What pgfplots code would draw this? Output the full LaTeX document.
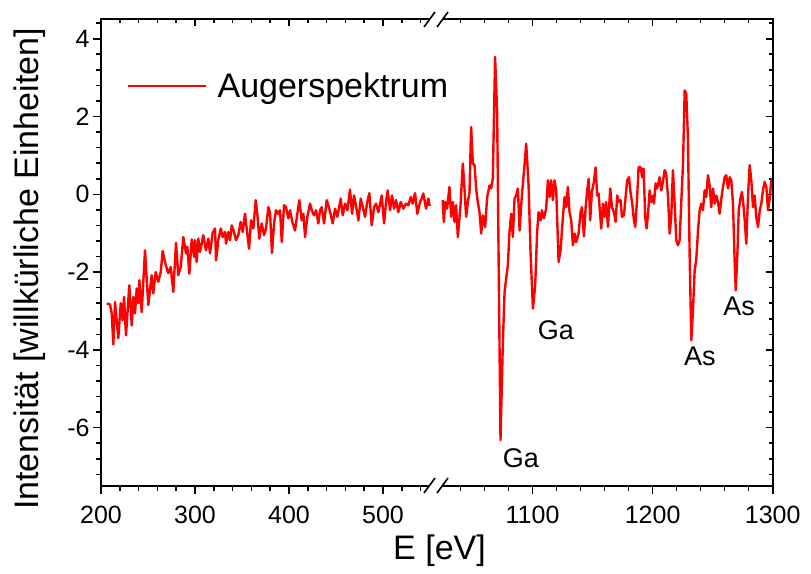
\documentclass[border=0pt]{standalone}
\usepackage{pgfplots}
\pgfplotsset{compat=1.18}
\usepackage{pgfplotstable}
\usepackage{fontspec}
\setmainfont{Liberation Sans}

\pgfplotstableread{
E I
206.1 -2.81
209.6 -2.83
211.4 -3.06
213.1 -3.86
214.9 -2.77
218.4 -3.70
221.0 -2.80
223.1 -3.24
224.5 -2.64
226.6 -3.63
230.1 -2.34
232.7 -3.37
234.4 -2.64
236.2 -3.06
238.0 -2.42
239.7 -2.80
240.8 -2.21
243.3 -3.03
246.8 -1.44
250.3 -2.85
253.9 -2.08
255.6 -2.55
258.2 -2.00
261.0 -2.25
263.5 -2.00
265.6 -1.46
268.1 -1.74
269.9 -1.90
271.6 -2.03
274.2 -1.87
276.9 -2.51
279.8 -1.25
282.2 -2.08
284.8 -1.87
287.6 -1.10
290.4 -1.52
291.8 -1.35
294.0 -2.04
296.5 -1.16
299.0 -1.61
300.0 -1.18
301.8 -1.74
303.5 -1.14
305.3 -1.48
307.1 -1.27
308.8 -1.05
311.7 -1.44
314.2 -1.14
316.0 -1.52
318.8 -0.99
321.3 -0.88
322.4 -1.70
324.8 -1.18
327.4 -0.88
329.5 -1.10
331.9 -0.97
333.0 -1.27
335.4 -0.97
337.3 -1.18
339.1 -0.80
341.5 -0.97
343.6 -1.18
346.1 -1.05
348.6 -0.71
350.8 -0.97
353.2 -0.50
355.0 -0.88
357.5 -1.40
359.6 -0.67
362.1 -0.88
364.6 -0.15
366.3 -0.50
368.4 -1.14
371.0 -0.75
373.4 -1.05
375.6 -0.88
378.0 -0.33
379.8 -0.46
381.9 -1.51
384.1 -0.75
386.2 -0.41
388.6 -0.50
390.5 -0.41
392.3 -1.23
394.7 -0.28
396.8 -0.33
399.3 -0.62
401.1 -0.41
403.5 -0.71
406.4 -0.93
408.9 -0.50
411.0 -0.15
413.5 -0.67
415.3 -0.50
417.1 -1.10
419.5 -0.58
422.4 -0.24
424.2 -0.41
426.6 -0.54
428.8 -0.41
431.2 -0.75
433.0 -0.41
434.8 -0.33
437.3 -0.75
440.1 -0.15
442.9 -0.37
446.5 -0.75
449.0 -0.37
451.4 -0.58
455.0 -0.11
457.2 -0.54
459.6 -0.24
462.1 -0.41
464.9 0.12
467.1 -0.50
469.2 -0.03
472.1 -0.41
473.8 -0.67
476.3 -0.11
478.5 -0.33
480.9 -0.58
483.3 -0.20
485.5 0.03
488.0 -0.80
490.5 -0.33
492.6 -0.24
495.1 -0.46
498.7 -0.03
501.1 -0.75
503.2 -0.20
505.0 0.10
507.5 -0.41
509.6 -0.03
511.8 -0.37
513.9 -0.15
516.3 -0.46
518.9 -0.20
521.6 -0.37
524.5 -0.24
527.0 -0.28
529.5 -0.07
531.6 -0.24
534.1 0.03
536.5 -0.50
539.4 -0.20
541.2 -0.11
542.9 0.02
545.8 -0.37
548.3 -0.11
549.6 -0.30
}\leftdata

\pgfplotstableread{
E I
1025.2 -0.15
1026.1 -0.71
1027.2 -0.20
1028.8 -0.37
1030.8 0.19
1032.2 -0.58
1033.6 -0.20
1035.0 -0.71
1036.3 -0.28
1037.8 -1.10
1040.0 -0.28
1041.9 0.79
1042.8 0.40
1044.7 -0.58
1046.1 -0.20
1047.5 0.06
1048.8 1.73
1050.3 0.79
1051.7 0.75
1053.0 0.15
1054.4 -0.20
1055.8 -0.46
1057.2 -1.01
1058.6 -0.54
1060.5 -0.84
1062.2 -0.07
1064.2 0.23
1065.5 0.15
1066.9 0.40
1068.8 3.53
1070.5 2.12
1071.9 -2.17
1073.3 -6.32
1075.2 -3.88
1076.7 -2.51
1078.0 -2.17
1079.4 -1.83
1080.8 -0.97
1082.2 -0.50
1083.6 -1.10
1085.0 -0.11
1086.3 -0.03
1087.8 0.15
1089.2 -0.93
1091.1 -0.03
1092.8 0.57
1094.7 1.30
1096.7 0.23
1098.3 -1.48
1100.3 -2.94
1102.2 -2.34
1103.8 -0.97
1105.0 -0.46
1106.7 -0.67
1107.8 -0.41
1109.4 -0.62
1111.3 -0.37
1112.8 0.36
1114.2 -0.07
1115.5 0.36
1116.9 -0.15
1118.3 0.36
1119.7 0.10
1121.7 -1.74
1123.3 -1.44
1125.3 -0.58
1126.7 -0.07
1128.0 -0.33
1129.4 0.19
1130.8 -0.46
1132.2 -0.67
1133.6 -1.31
1135.0 -1.01
1136.3 -1.23
1138.3 -1.01
1140.0 -0.46
1141.1 -0.33
1142.8 -1.08
1144.2 -0.33
1145.5 0.10
1146.7 0.40
1148.0 -0.67
1149.4 0.06
1151.1 0.32
1152.5 0.69
1153.8 -0.03
1155.0 0.02
1155.8 -0.33
1157.2 -0.88
1158.6 -0.24
1160.0 -0.58
1161.3 -0.20
1162.8 -0.84
1164.7 0.15
1166.1 -0.33
1167.8 -0.46
1169.2 -0.71
1170.5 -0.03
1171.9 -0.20
1173.3 -0.15
1174.4 -0.58
1176.1 -0.54
1177.5 -0.07
1178.8 0.36
1180.3 0.44
1181.7 0.02
1183.0 -0.24
1184.4 -0.67
1185.5 -0.84
1186.9 -0.20
1188.3 0.70
1190.0 0.70
1191.3 0.44
1192.5 0.66
1193.8 -0.58
1195.0 -0.88
1196.1 -0.54
1197.5 0.10
1198.8 -0.20
1200.3 -0.03
1201.1 -0.24
1202.5 0.28
1203.8 0.15
1205.8 0.44
1207.2 0.10
1208.6 0.32
1210.0 0.62
1211.3 0.53
1212.8 -0.07
1214.2 -1.01
1215.5 -0.58
1216.9 0.62
1218.3 -0.24
1219.7 -1.18
1221.1 -1.31
1222.5 -1.18
1223.8 -0.24
1225.3 0.79
1226.7 2.67
1228.0 2.59
1229.4 1.47
1230.8 -1.52
1232.2 -3.75
1233.6 -2.98
1235.0 -1.95
1236.3 -1.70
1237.8 -0.93
1239.2 -0.41
1240.5 -0.24
1241.9 -0.41
1243.3 0.10
1244.7 -0.07
1246.1 0.49
1247.5 0.23
1248.8 -0.33
1250.3 0.15
1251.7 -0.24
1253.0 -0.03
1254.4 -0.20
1255.8 -0.50
1257.2 -0.11
1258.6 0.19
1260.0 0.44
1261.3 0.49
1262.8 0.15
1264.2 0.44
1265.5 0.36
1266.9 -0.24
1268.3 -1.70
1269.2 -2.47
1270.5 -1.61
1271.7 -0.41
1273.3 -0.07
1274.4 0.06
1275.5 -0.24
1276.7 -0.67
1278.0 -1.27
1279.4 -0.07
1280.8 0.75
1282.2 0.36
1283.6 -0.33
1285.0 -0.03
1286.3 -0.58
1287.8 -0.84
1289.2 -0.41
1290.5 -0.24
1291.9 0.10
1293.3 0.32
1294.7 0.19
1296.1 -0.41
1297.5 -0.11
1298.8 0.36
1300.0 0.40
}\rightdata

\definecolor{spec}{RGB}{255,0,0}

\pgfplotsset{
  base/.style={
    scale only axis, height=466.7bp, anchor=south west,
    ymin=-7.5, ymax=4.5,
    axis line style={draw=none},
    /pgf/number format/assume math mode=true,
    /pgf/number format/1000 sep={},
    scaled x ticks=false, scaled y ticks=false,
    tick style={line width=1.6bp, black},
    major tick length=8bp, minor tick length=5bp,
    tick label style={font=\fontsize{25bp}{30bp}\selectfont},
    xticklabel style={yshift=-9bp},
    clip=false,
  },
}

\begin{document}
\begin{tikzpicture}
\path[use as bounding box] (0,0) rectangle (811bp,574bp);

% left segment, top ticks (inward)
\begin{axis}[base, at={(101bp,88bp)}, width=329bp,
  xmin=200, xmax=550,
  xtick={200,300,400,500}, minor xtick={220,240,...,540},
  xtick pos=right, ytick=\empty, xticklabels={},
  tick align=inside, major tick length=7bp, minor tick length=4bp]
\end{axis}

% left segment, data
\begin{axis}[base, at={(101bp,88bp)}, width=329bp,
  xmin=200, xmax=550,
  xtick={200,300,400,500}, minor xtick={220,240,...,540},
  ytick={-6,-4,-2,0,2,4}, minor ytick={-7.2,-6.8,...,4.45},
  xtick pos=left, ytick pos=left, tick align=outside,
  legend style={at={(0.079,0.857)}, anchor=west, draw=none, fill=none,
    inner sep=0pt, nodes={inner sep=0pt}, column sep=10bp,
    font=\fontsize{34bp}{40bp}\selectfont},
  legend image code/.code={\draw[#1] (0bp,0bp) -- (78bp,0bp);}]
\addplot[spec, line width=2.4bp, line join=round] table {\leftdata};
\addlegendentry{Augerspektrum}
\end{axis}

% right segment, top and right ticks (inward)
\begin{axis}[base, at={(442.5bp,88bp)}, width=330.2bp,
  xmin=1025, xmax=1300,
  xtick={1100,1200,1300}, minor xtick={1040,1060,...,1280},
  ytick={-6,-4,-2,0,2,4}, minor ytick={-7.2,-6.8,...,4.45},
  xtick pos=right, ytick pos=right, xticklabels={}, yticklabels={},
  tick align=inside, major tick length=7bp, minor tick length=4bp]
\end{axis}

% right segment, data
\begin{axis}[base, at={(442.5bp,88bp)}, width=330.2bp,
  xmin=1025, xmax=1300,
  xtick={1100,1200,1300}, minor xtick={1040,1060,...,1280},
  xtick pos=left, ytick=\empty, tick align=outside]
\addplot[spec, line width=2.4bp, line join=round] table {\rightdata};
\node[font=\fontsize{27bp}{32bp}\selectfont] at (axis cs:1090.3,-6.79) {Ga};
\node[font=\fontsize{27bp}{32bp}\selectfont] at (axis cs:1119.4,-3.50) {Ga};
\node[font=\fontsize{27bp}{32bp}\selectfont] at (axis cs:1239.4,-4.16) {As};
\node[font=\fontsize{27bp}{32bp}\selectfont] at (axis cs:1272.0,-2.88) {As};
\end{axis}

% frame
\draw[line width=1.8bp] (430bp,554.7bp) -- (101bp,554.7bp) -- (101bp,88bp) -- (430bp,88bp);
\draw[line width=1.8bp] (442.5bp,554.7bp) -- (772.7bp,554.7bp) -- (772.7bp,88bp) -- (442.5bp,88bp);
% break marks
\draw[line width=1.6bp] (424bp,81bp) -- (435bp,96bp);
\draw[line width=1.6bp] (437bp,81bp) -- (448bp,96bp);
\draw[line width=1.6bp] (424bp,547bp) -- (435bp,562bp);
\draw[line width=1.6bp] (437bp,547bp) -- (448bp,562bp);

% axis titles
\node[font=\fontsize{34bp}{40bp}\selectfont] at (439.5bp,23bp) {E [eV]};
\node[rotate=90, font=\fontsize{34bp}{40bp}\selectfont] at (30bp,305bp) {Intensität [willkürliche Einheiten]};
\end{tikzpicture}
\end{document}
